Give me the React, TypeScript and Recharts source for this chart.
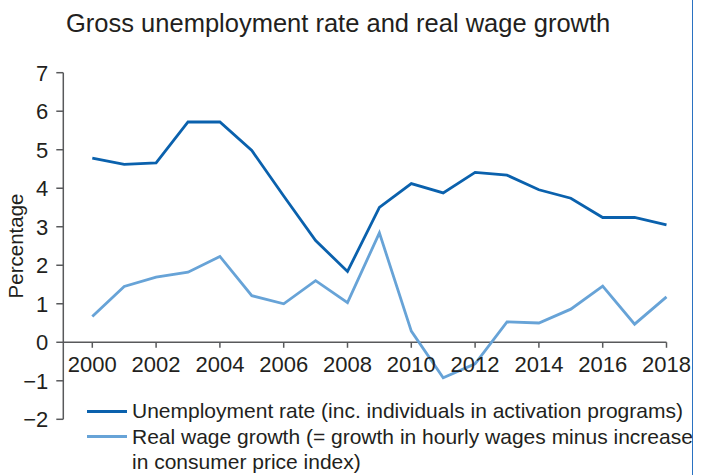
import React from "react";
import { Line, LineChart, ReferenceLine, XAxis, YAxis } from "recharts";

const years = [
  2000, 2001, 2002, 2003, 2004, 2005, 2006, 2007, 2008, 2009, 2010, 2011, 2012, 2013, 2014, 2015,
  2016, 2017, 2018,
];
const unemployment = [
  4.78, 4.62, 4.66, 5.72, 5.72, 4.98, 3.8, 2.64, 1.84, 3.5, 4.12, 3.88, 4.41, 4.34, 3.96, 3.74,
  3.24, 3.24, 3.05,
];
const realWage = [
  0.67, 1.45, 1.69, 1.82, 2.23, 1.21, 1.0, 1.6, 1.03, 2.84, 0.29, -0.92, -0.56, 0.53, 0.5, 0.86,
  1.46, 0.47, 1.18,
];
const xTicks = [2000, 2002, 2004, 2006, 2008, 2010, 2012, 2014, 2016, 2018];
const yTicks = [-2, -1, 0, 1, 2, 3, 4, 5, 6, 7];
const unemploymentLabel = ["Unemployment rate (inc. individuals in activation programs)"];
const realWageLabel = [
  "Real wage growth (= growth in hourly wages minus increase",
  "in consumer price index)",
];

const data = years.map((year, i) => ({
  year,
  unemployment: unemployment[i],
  realWage: realWage[i],
}));

const W = 705;
const H = 475;
const TOP = 72.7;
const BOTTOM = 55.7;
const X_AXIS_H = 20;
const Y_MIN = -2;
const Y_MAX = 7;
const ZERO_Y = TOP + ((H - TOP - BOTTOM) * (Y_MAX - 0)) / (Y_MAX - Y_MIN);

const FONT = '"Liberation Sans", Arial, sans-serif';
const TEXT = "#231f20";
const AXIS = "#58595b";
const DARK = "#0a61ad";
const LIGHT = "#67a3d7";

const legendItems = [
  { lines: unemploymentLabel, color: DARK },
  { lines: realWageLabel, color: LIGHT },
];

function XTick(props: any) {
  const { x, payload } = props;
  return (
    <g>
      <line x1={x} x2={x} y1={ZERO_Y} y2={ZERO_Y + 5.5} stroke={AXIS} strokeWidth={1.5} />
      <text x={x} y={ZERO_Y + 30} textAnchor="middle" fill={TEXT} fontSize={22} fontFamily={FONT}>
        {payload.value}
      </text>
    </g>
  );
}

export default function App() {
  return (
    <div style={{ position: "relative", width: W, height: H, background: "#fff", overflow: "hidden" }}>
      <style>{`body{margin:0}`}</style>
      <div
        style={{
          position: "absolute",
          left: 66,
          top: 10,
          fontFamily: FONT,
          fontSize: 25.5,
          lineHeight: "26px",
          color: TEXT,
          whiteSpace: "nowrap",
        }}
      >
        Gross unemployment rate and real wage growth
      </div>
      <div
        style={{
          position: "absolute",
          left: 692,
          top: 0,
          height: H,
          borderLeft: "1.6px solid #2a72c2",
        }}
      />
      <LineChart
        width={W}
        height={H}
        data={data}
        margin={{ top: TOP, right: 38.5, bottom: BOTTOM - X_AXIS_H, left: 8 }}
      >
        <XAxis
          dataKey="year"
          type="number"
          domain={[2000, 2018]}
          ticks={xTicks}
          padding={{ left: 29, right: 0 }}
          height={X_AXIS_H}
          axisLine={false}
          tickLine={false}
          tick={<XTick />}
          interval={0}
        />
        <YAxis
          width={55.3}
          domain={[Y_MIN, Y_MAX]}
          ticks={yTicks}
          interval={0}
          tickSize={7}
          tickMargin={8}
          axisLine={{ stroke: AXIS, strokeWidth: 1.5 }}
          tickLine={{ stroke: AXIS, strokeWidth: 1.5 }}
          tick={{ fill: TEXT, fontSize: 22, fontFamily: FONT }}
          tickFormatter={(v: number) => (v < 0 ? `\u2212${Math.abs(v)}` : `${v}`)}
          label={{
            value: "Percentage",
            angle: -90,
            position: "insideLeft",
            offset: 7.5,
            style: { textAnchor: "middle", fill: TEXT, fontSize: 20.5, fontFamily: FONT },
          }}
        />
        <ReferenceLine y={0} stroke={AXIS} strokeWidth={1.5} />
        <Line
          dataKey="unemployment"
          stroke={DARK}
          strokeWidth={2.8}
          dot={false}
          isAnimationActive={false}
        />
        <Line
          dataKey="realWage"
          stroke={LIGHT}
          strokeWidth={2.8}
          dot={false}
          isAnimationActive={false}
        />
      </LineChart>
      <div
        style={{
          position: "absolute",
          left: 87,
          top: 398,
          fontFamily: FONT,
          fontSize: 21,
          lineHeight: "25.5px",
          color: TEXT,
        }}
      >
        {legendItems.map((item) => (
          <div key={item.lines[0]} style={{ display: "flex", alignItems: "flex-start" }}>
            <div
              style={{
                width: 40,
                height: 3,
                background: item.color,
                marginTop: 11.5,
                marginRight: 5,
                flex: "none",
              }}
            />
            <div style={{ whiteSpace: "nowrap" }}>
              {item.lines.map((line) => (
                <div key={line}>{line}</div>
              ))}
            </div>
          </div>
        ))}
      </div>
    </div>
  );
}
